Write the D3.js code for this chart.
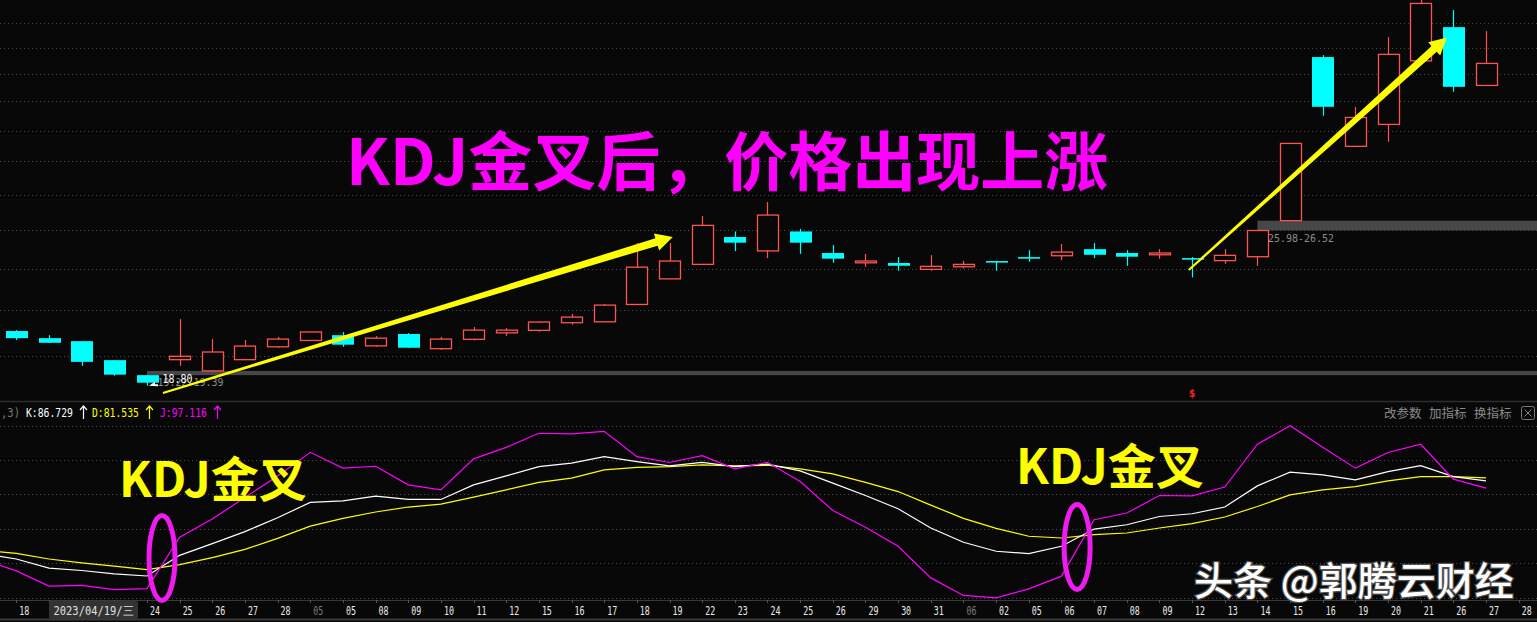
<!DOCTYPE html>
<html><head><meta charset="utf-8">
<script src="https://cdn.jsdelivr.net/npm/d3@7/dist/d3.min.js"></script>
<style>html,body{margin:0;padding:0;background:#080808;overflow:hidden}svg{display:block}</style>
</head><body>
<svg id="c" width="1537" height="622"></svg>
<script>
// ---------- data ----------
const dates = ["17","18","19","20","21","24","25","26","27","28","05","05","08","09","10","11","12","15","16","17","18","19","22","23","24","25","26","29","30","31","06","02","05","06","07","08","09","12","13","14","15","16","19","20","21","26","27","28"];
const monthMark = [10, 30]; // slots whose label is a month marker (gray)
// candles: slot 0 (Apr 17) is off-screen, last slot (Jun 28) has no candle
const opens  = [null,21.07,20.76,20.63,19.83,19.22,19.85,19.39,19.85,20.39,20.66,20.89,20.43,20.94,20.31,20.71,20.99,21.10,21.44,21.48,22.27,23.49,24.21,25.63,24.90,25.93,24.79,24.29,24.28,23.96,24.09,24.38,24.58,24.65,24.99,24.79,24.70,24.53,24.40,24.60,26.52,37.29,30.96,32.41,37.00,39.69,35.15,null];
const highs  = [null,21.11,20.89,20.63,19.83,19.22,21.60,20.72,20.68,20.81,21.03,21.03,20.85,20.98,20.81,21.25,21.20,21.51,21.83,22.29,25.31,25.31,26.77,25.93,27.57,26.07,25.21,24.74,24.58,24.68,24.38,24.38,24.94,25.26,25.31,24.94,24.99,24.58,24.99,25.98,31.15,37.44,33.61,38.87,42.20,41.13,39.36,null];
const lows   = [null,20.68,20.55,19.60,19.20,18.80,19.60,19.39,19.85,20.35,20.66,20.39,20.39,20.35,20.26,20.66,20.86,21.04,21.35,21.48,22.27,23.49,24.21,24.89,24.53,24.75,24.29,24.09,23.89,23.89,24.01,23.89,24.34,24.43,24.53,24.14,24.50,23.56,24.24,24.14,26.52,33.00,30.96,31.26,37.00,34.69,35.15,null];
const closes = [null,20.76,20.56,19.76,19.24,18.92,19.99,20.17,20.42,20.72,21.03,20.48,20.76,20.35,20.72,21.11,21.11,21.47,21.69,22.24,24.07,24.38,26.26,25.33,26.83,25.33,24.50,24.38,24.14,24.11,24.21,24.34,24.55,24.84,24.70,24.60,24.79,24.50,24.67,25.98,31.15,33.62,32.88,37.50,41.70,35.05,36.80,null];
const kVals = [25.5,22.4,17.1,15.7,13.7,12.5,24.5,31.3,38.3,46.4,55.3,56.2,58.9,57.0,57.0,65.5,70.7,76.1,78.1,81.9,79.0,76.5,78.6,76.1,77.5,73.6,66.5,59.3,51.6,40.4,32.1,26.9,25.5,29.8,39.8,42.3,47.1,48.7,52.6,64.9,72.9,71.3,68.4,73.2,76.7,70.3,67.8,null];
const dVals = [27.3,25.7,22.4,20.1,18.2,16.2,19.1,23.2,28.0,34.4,41.5,46.0,49.7,52.6,54.3,58.4,62.6,66.9,69.4,74.2,75.7,76.1,77.1,76.5,76.9,74.8,71.9,66.9,61.6,53.7,46.0,40.2,35.6,34.6,36.5,37.5,40.4,42.9,46.8,52.9,59.7,62.6,64.5,67.8,70.3,70.3,69.6,null];
const jVals = [21.8,15.5,6.6,7.0,4.6,5.2,35.0,45.6,58.2,70.7,84.4,75.2,76.3,65.5,62.6,80.6,87.3,95.5,95.1,96.6,81.9,78.5,82.5,74.8,78.6,67.4,50.6,40.8,29.8,11.4,1.2,-0.2,5.0,12.4,45.2,49.1,59.3,59.1,64.2,89.1,99.9,87.3,75.2,84.3,89.1,68.8,63.6,null];
const priceTicks = [20,22,24,26,28,30,32,34,36,38,40];
const kdjTicks = [0,20,40,60,80,100];
const gapBands = [{slot:5, lo:19.22, hi:19.39}, {slot:39, lo:25.98, hi:26.52}];
const header = {prefix:",3)", k:"K:86.729", d:"D:81.535", j:"J:97.116"};
const cursorSlot = 2;               // 2023/04/19 — its box hides slots 2..4
const cursorLabel = "2023/04/19/三";
const title = "KDJ金叉后，价格出现上涨";
const crossText = "KDJ金叉";
const crossMarks = [{slot:5.46, v:23.0}, {slot:33.48, v:29.4}];
const arrows = [{s1:5.49, p1:18.52, s2:21.1, p2:25.63}, {s1:36.9, p1:23.93, s2:44.8, p2:38.84}];
const menuItems = ["改参数","加指标","换指标"];
const watermark = "头条 @郭腾云财经";

// ---------- scales ----------
const svg = d3.select("#c");
const W = 1537, H = 622;
const BG = "#080808", RED = "#ff5454", CYAN = "#00ffff";
svg.append("rect").attr("width",W).attr("height",H).attr("fill",BG);

const x = d3.scaleBand().domain(d3.range(dates.length)).range([-32.66, 1535]).padding(0);
const cx = i => x(0) + x.step()*(i + 0.5);
const bodyW = x.step()*0.64;
const y = d3.scaleLog().domain([18.25, 42]).range([400, 0]);
const yk = d3.scaleLinear().domain([0,100]).range([597.5, 425.5]);

// ---------- grid ----------
const grid = svg.append("g").attr("stroke","#4a4a4a").attr("stroke-dasharray","1,3").attr("stroke-width",1);
priceTicks.forEach(t => grid.append("line").attr("x1",0).attr("x2",W)
  .attr("y1",Math.round(y(t))+0.5).attr("y2",Math.round(y(t))+0.5));
kdjTicks.forEach(t => grid.append("line").attr("x1",0).attr("x2",W)
  .attr("y1",Math.round(yk(t))+0.5).attr("y2",Math.round(yk(t))+0.5));

// separators
svg.append("line").attr("x1",0).attr("x2",W).attr("y1",401.5).attr("y2",401.5).attr("stroke","#2e2e2e").attr("stroke-width",1.5);
svg.append("line").attr("x1",0).attr("x2",W).attr("y1",600.5).attr("y2",600.5).attr("stroke","#3a3a3a");
svg.append("line").attr("x1",0).attr("x2",W).attr("y1",619.5).attr("y2",619.5).attr("stroke","#3a3a3a").attr("stroke-width",2);

// ---------- price panel ----------
svg.append("defs").append("clipPath").attr("id","pclip").append("rect").attr("x",0).attr("y",0).attr("width",W).attr("height",400);
const pp = svg.append("g").attr("clip-path","url(#pclip)");

gapBands.forEach(b => {
  pp.append("rect").attr("x",cx(b.slot)).attr("width",W-cx(b.slot))
    .attr("y",y(b.hi)).attr("height",Math.max(3,y(b.lo)-y(b.hi))).attr("fill","#474747");
});

const idx = d3.range(dates.length).filter(i => opens[i] != null);
idx.forEach(i => {
  const o=opens[i], h=highs[i], l=lows[i], c=closes[i];
  const up = c >= o;
  const col = up ? RED : CYAN;
  const xc = Math.round(cx(i)) + 0.5;
  pp.append("line").attr("x1",xc).attr("x2",xc).attr("y1",y(h)).attr("y2",y(l)).attr("stroke",col).attr("stroke-width",1.2);
  const top = y(Math.max(o,c)), bot = y(Math.min(o,c));
  const bx = Math.round(cx(i) - bodyW/2) + 0.5;
  if (up) {
    pp.append("rect").attr("x",bx).attr("width",Math.round(bodyW)).attr("y",top).attr("height",Math.max(1,bot-top))
      .attr("fill",BG).attr("stroke",col).attr("stroke-width",1.3);
  } else {
    pp.append("rect").attr("x",bx-0.5).attr("width",Math.round(bodyW)+1).attr("y",top).attr("height",Math.max(1.6,bot-top))
      .attr("fill",col);
  }
});

const mono = "'DejaVu Sans Mono', 'Liberation Mono', monospace";
gapBands.forEach(b => {
  const txt = b.lo.toFixed(2) + "-" + b.hi.toFixed(2);
  svg.append("text").attr("x",cx(b.slot)+10.5).attr("y",y(b.lo)+11)
    .attr("font-family",mono).attr("font-size",11).attr("fill","#8c8c8c")
    .attr("textLength",66).attr("lengthAdjust","spacingAndGlyphs").text(txt);
});
const lowI = idx.reduce((a,b)=> lows[b] < lows[a] ? b : a, idx[0]);
svg.append("text").attr("x",cx(lowI)+15.5).attr("y",y(lows[lowI])-2.5)
  .attr("font-family",mono).attr("font-size",12).attr("fill","#ffffff")
  .attr("textLength",30).attr("lengthAdjust","spacingAndGlyphs").text(lows[lowI].toFixed(2));
svg.append("path").attr("d",`M${cx(lowI)+2},${y(lows[lowI])} l6,-4 l0,2.5 l3,0 l0,2 z`).attr("fill","#ffffff");
svg.append("text").attr("x",cx(37)).attr("y",397).attr("text-anchor","middle")
  .attr("font-family",mono).attr("font-weight","bold").attr("font-size",11).attr("fill","#ff2020").text("$");

// ---------- KDJ panel ----------
const kp = svg.append("g");
const lineGen = arr => d3.line().defined(i => arr[i] != null).x(i => cx(i)).y(i => yk(arr[i]));
const allIdx = d3.range(dates.length);
kp.append("path").attr("d",lineGen(dVals)(allIdx)).attr("fill","none").attr("stroke","#ffff00").attr("stroke-width",1.2);
kp.append("path").attr("d",lineGen(kVals)(allIdx)).attr("fill","none").attr("stroke","#ffffff").attr("stroke-width",1.2);
kp.append("path").attr("d",lineGen(jVals)(allIdx)).attr("fill","none").attr("stroke","#ff00ff").attr("stroke-width",1.2);

const hdr = svg.append("g").attr("font-family",mono).attr("font-size",13);
hdr.append("text").attr("x",1).attr("y",417).attr("fill","#7a7a7a").attr("textLength",19).attr("lengthAdjust","spacingAndGlyphs").text(header.prefix);
[[header.k,"#ffffff",26],[header.d,"#ffff00",92],[header.j,"#ff00ff",160]].forEach(([t,c,x0]) => {
  hdr.append("text").attr("x",x0).attr("y",417).attr("fill",c).attr("textLength",47).attr("lengthAdjust","spacingAndGlyphs").text(t);
  hdr.append("path").attr("d",`M${x0+57.5},406 L${x0+57.5},419 M${x0+54},410 L${x0+57.5},406 L${x0+61},410`)
    .attr("stroke",c).attr("stroke-width",1.2).attr("fill","none");
});
const cjk = "'Noto Sans CJK SC', 'Noto Sans', sans-serif";
menuItems.forEach((t,k) => {
  svg.append("text").attr("x",1384 + k*45).attr("y",418).attr("font-family",cjk).attr("font-size",12.5)
    .attr("fill","#8a8a8a").text(t);
});
svg.append("rect").attr("x",1521.5).attr("y",406.5).attr("width",13).attr("height",13).attr("rx",2)
  .attr("fill","none").attr("stroke","#777");
svg.append("path").attr("d","M1524.5,409.5 L1531.5,416.5 M1531.5,409.5 L1524.5,416.5").attr("stroke","#888").attr("stroke-width",1);

// ---------- x axis ----------
const ax = svg.append("g").attr("font-family",mono).attr("font-size",11.5);
allIdx.forEach(i => {
  if (i === 0) return;
  ax.append("line").attr("x1",Math.round(cx(i))+0.5).attr("x2",Math.round(cx(i))+0.5).attr("y1",600).attr("y2",603).attr("stroke","#555");
  if (i >= cursorSlot && i <= cursorSlot + 2) return; // hidden under cursor date box
  ax.append("text").attr("x",cx(i)+8).attr("y",615).attr("text-anchor","middle")
    .attr("fill", monthMark.includes(i) ? "#7c7c7c" : "#ececec")
    .attr("textLength",10).attr("lengthAdjust","spacingAndGlyphs").text(dates[i]);
});
svg.append("rect").attr("x",49).attr("y",601).attr("width",89).attr("height",18).attr("rx",2).attr("fill","#333333");
svg.append("text").attr("x",93.5).attr("y",615).attr("text-anchor","middle").attr("font-family",mono).attr("font-size",11.5)
  .attr("fill","#e0e0e0").attr("textLength",80).attr("lengthAdjust","spacingAndGlyphs").text(cursorLabel);

// ---------- annotations ----------
function arrowPts(x1,y1,x2,y2,w0,w1,hl,hh){
  const dx=x2-x1, dy=y2-y1, L=Math.hypot(dx,dy), ux=dx/L, uy=dy/L, nx=-uy, ny=ux;
  const bx=x2-ux*hl, by=y2-uy*hl;
  return [[x1+nx*w0,y1+ny*w0],[bx+nx*w1,by+ny*w1],[bx+nx*hh,by+ny*hh],[x2,y2],
          [bx-nx*hh,by-ny*hh],[bx-nx*w1,by-ny*w1],[x1-nx*w0,y1-ny*w0]];
}
arrows.forEach(a => {
  const pts = arrowPts(cx(a.s1), y(a.p1), cx(a.s2), y(a.p2), 1, 3.8, 17, 9);
  svg.append("polygon").attr("points",pts.map(p=>p.join(",")).join(" ")).attr("fill","#ffff00");
});
crossMarks.forEach(m => {
  svg.append("ellipse").attr("cx",cx(m.slot)).attr("cy",yk(m.v)).attr("rx",13).attr("ry",42.5)
    .attr("fill","none").attr("stroke","#ee1cee").attr("stroke-width",5);
});
svg.append("text").attr("x",346).attr("y",185).attr("font-family",cjk).attr("font-weight",700)
  .attr("font-size",64).attr("fill","#ff00ff").text(title);
[[119,497],[1016,484]].forEach(([tx,ty]) => {
  svg.append("text").attr("x",tx).attr("y",ty).attr("font-family",cjk).attr("font-weight",700)
    .attr("font-size",48).attr("fill","#ffff00").text(crossText);
});
svg.append("text").attr("x",1194).attr("y",595).attr("font-family",cjk).attr("font-weight",500)
  .attr("font-size",39).attr("fill","#ffffff").attr("stroke","#505050").attr("stroke-width",2.5)
  .attr("paint-order","stroke").text(watermark);
</script>
</body></html>
